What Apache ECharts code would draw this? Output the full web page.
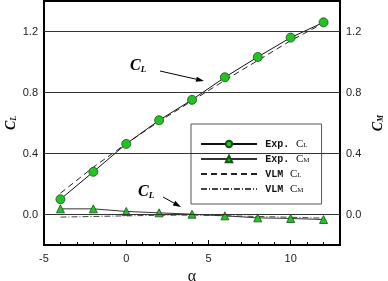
<!DOCTYPE html>
<html>
<head>
<meta charset="utf-8">
<script src="https://cdn.jsdelivr.net/npm/echarts@6/dist/echarts.min.js"></script>
<style>
  html, body { margin: 0; padding: 0; background: #fff; }
  #chart { width: 388px; height: 281px; }
</style>
</head>
<body>
<div id="chart"></div>
<script>
// angle of attack (deg)
const alpha = [-4, -2, 0, 2, 4, 6, 8, 10, 12];
const expCL = [0.10, 0.28, 0.463, 0.618, 0.752, 0.90, 1.033, 1.16, 1.26];
const expCM = [0.037, 0.037, 0.02, 0.011, 0.002, -0.009, -0.022, -0.026, -0.033];
const vlmCL = [0.14, 0.31, 0.465, 0.61, 0.745, 0.88, 1.01, 1.14, 1.255];
const vlmCM = [-0.017, -0.013, -0.009, -0.005, -0.004, -0.008, -0.013, -0.018, -0.024];
const yTicks = [0.0, 0.4, 0.8, 1.2];
const legendNames = ['Exp. CL', 'Exp. CM', 'VLM CL', 'VLM CM'];

const pairs = ys => alpha.map((a, i) => [a, ys[i]]);

const green = '#22c322';
const labelFont = { fontFamily: 'Liberation Sans', fontSize: 11, color: '#222' };

function yLabel(v) {
  const k = v / 0.4;
  return Math.abs(k - Math.round(k)) < 1e-6 ? v.toFixed(1) : '';
}

function arrow(x1, y1, x2, y2) {
  const dx = x2 - x1, dy = y2 - y1, len = Math.hypot(dx, dy);
  const ux = dx / len, uy = dy / len;
  const bx = x2 - ux * 8, by = y2 - uy * 8;
  return [
    { type: 'line', shape: { x1: x1, y1: y1, x2: bx, y2: by }, style: { stroke: '#000', lineWidth: 1 }, z: 10 },
    { type: 'polygon', shape: { points: [[x2, y2], [bx - uy * 2.6, by + ux * 2.6], [bx + uy * 2.6, by - ux * 2.6]] },
      style: { fill: '#000' }, z: 10 }
  ];
}

function subRich(big, small, pad) {
  return {
    c: { fontFamily: 'Liberation Serif', fontStyle: 'italic', fontWeight: 'bold', fontSize: big, color: '#000' },
    s: { fontFamily: 'Liberation Serif', fontStyle: 'italic', fontWeight: 'bold', fontSize: small, color: '#000', verticalAlign: 'bottom', padding: [pad, 0, 0, 0] }
  };
}
const noteRich = subRich(16, 9, 7);
const nameRich = subRich(14, 8, 6);

const chart = echarts.init(document.getElementById('chart'), null, { renderer: 'canvas' });

const option = {
  animation: false,
  backgroundColor: '#fff',
  grid: { left: 44, right: 48, top: 1, bottom: 36, outerBoundsMode: 'none', show: true, borderColor: '#000', borderWidth: 2 },
  legend: {
    data: [
      { name: legendNames[0] },
      { name: legendNames[1] },
      { name: legendNames[2], itemStyle: { opacity: 0 } },
      { name: legendNames[3], itemStyle: { opacity: 0 } }
    ],
    orient: 'vertical',
    left: 191,
    top: 124,
    padding: [14, 12, 9, 9],
    itemWidth: 56,
    itemHeight: 8,
    itemGap: 3,
    selectedMode: false,
    backgroundColor: '#fff',
    borderColor: '#555',
    borderWidth: 1,
    formatter: function (name) {
      const p = name.split(' ');
      return ' {m|' + p[0] + '}  {c|C}{s|' + p[1].slice(1) + '}';
    },
    textStyle: {
      lineHeight: 10,
      rich: {
        m: { fontFamily: 'Liberation Mono', fontWeight: 'bold', fontSize: 10, color: '#111', lineHeight: 10 },
        c: { fontFamily: 'Liberation Serif', fontSize: 11, color: '#111', lineHeight: 10 },
        s: { fontFamily: 'Liberation Serif', fontSize: 7, color: '#111', lineHeight: 7, verticalAlign: 'bottom' }
      }
    }
  },
  xAxis: {
    type: 'value',
    min: -5,
    max: 13,
    interval: 5,
    name: 'α',
    nameLocation: 'middle',
    nameGap: 17,
    nameTextStyle: { fontFamily: 'Liberation Serif', fontSize: 16, color: '#111' },
    axisLine: { show: true, onZero: false, lineStyle: { color: '#000', width: 2 } },
    axisTick: { show: true, inside: true, length: 5, lineStyle: { color: '#000' } },
    minorTick: { show: true, splitNumber: 5, length: 3, lineStyle: { color: '#000' } },
    axisLabel: Object.assign({ margin: 8, showMaxLabel: false }, labelFont),
    splitLine: { show: false }
  },
  yAxis: [
    {
      type: 'value',
      min: -0.2,
      max: 1.4,
      interval: 0.2,
      position: 'left',
      name: '{c|C}{s|L}',
      nameLocation: 'middle',
      nameGap: 26,
      nameMoveOverlap: false,
      nameRotate: 90,
      nameTextStyle: { rich: nameRich },
      axisLine: { show: true, onZero: false, lineStyle: { color: '#000', width: 2 } },
      axisTick: { show: false },
      axisLabel: Object.assign({ margin: 6, formatter: yLabel }, labelFont),
      splitLine: { show: false }
    },
    {
      type: 'value',
      min: -0.2,
      max: 1.4,
      interval: 0.2,
      position: 'right',
      name: '{c|C}{s|M}',
      nameLocation: 'middle',
      nameGap: 31,
      nameMoveOverlap: false,
      nameRotate: 90,
      nameTextStyle: { rich: nameRich },
      axisLine: { show: true, onZero: false, lineStyle: { color: '#000', width: 2 } },
      axisTick: { show: false },
      axisLabel: Object.assign({ margin: 6, formatter: yLabel }, labelFont),
      splitLine: { show: false }
    }
  ],
  series: [
    {
      name: 'grid',
      type: 'line',
      data: [],
      silent: true,
      z: 1,
      markLine: {
        silent: true,
        symbol: 'none',
        label: { show: false },
        lineStyle: { color: '#333', type: 'solid', width: 1 },
        data: yTicks.map(v => ({ yAxis: v }))
      }
    },
    {
      name: legendNames[0],
      type: 'line',
      data: pairs(expCL),
      symbol: 'circle',
      symbolSize: 9,
      lineStyle: { color: '#111', width: 1 },
      itemStyle: { color: green, borderColor: '#145214', borderWidth: 0.8 },
      z: 4
    },
    {
      name: legendNames[1],
      type: 'line',
      data: pairs(expCM),
      symbol: 'triangle',
      symbolSize: 8,
      lineStyle: { color: '#333', width: 1 },
      itemStyle: { color: green, borderColor: '#145214', borderWidth: 0.8 },
      z: 4
    },
    {
      name: legendNames[2],
      type: 'line',
      data: pairs(vlmCL),
      symbol: 'none',
      lineStyle: { color: '#222', width: 1, type: [6, 4] },
      itemStyle: { color: '#222' },
      z: 3
    },
    {
      name: legendNames[3],
      type: 'line',
      data: pairs(vlmCM),
      symbol: 'none',
      lineStyle: { color: '#444', width: 1, type: [6, 2, 1, 2] },
      itemStyle: { color: '#444' },
      z: 3
    }
  ],
  graphic: [
    { type: 'text', x: 130, y: 58, z: 10, style: { text: '{c|C}{s|L}', rich: noteRich } },
    { type: 'text', x: 138, y: 184, z: 10, style: { text: '{c|C}{s|L}', rich: noteRich } }
  ].concat(arrow(160, 71, 204, 81), arrow(163, 197, 181, 207))
};

chart.setOption(option);
</script>
</body>
</html>
